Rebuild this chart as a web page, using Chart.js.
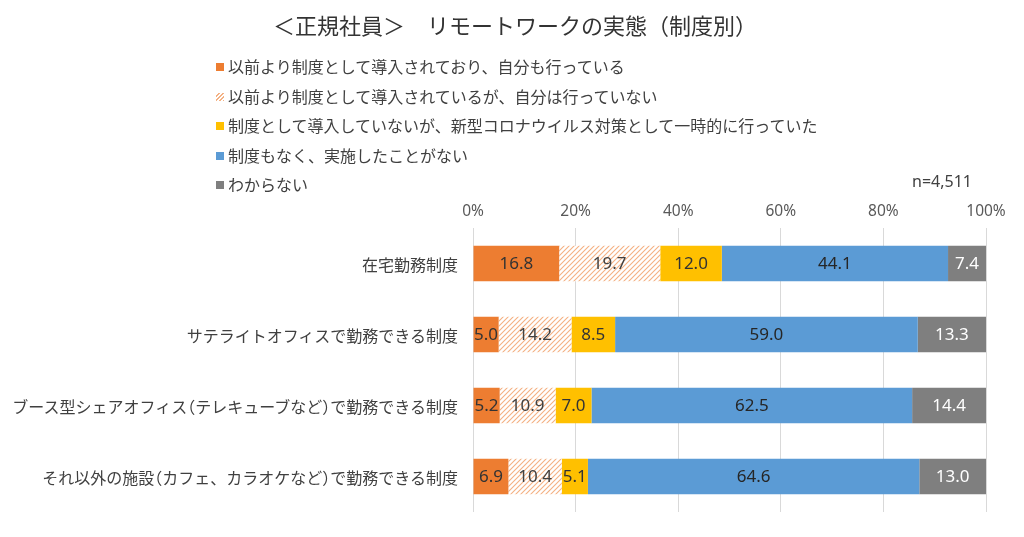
<!DOCTYPE html>
<html><head><meta charset="utf-8">
<script src="https://cdn.jsdelivr.net/npm/chart.js@4"></script>
<style>
html,body{margin:0;padding:0;background:#fff;}
#wrap{position:relative;width:1024px;height:537px;font-family:"Noto Sans CJK JP","Noto Sans",sans-serif;color:#404040;}
#c{position:absolute;left:0;top:0;}
#title{position:absolute;left:0;width:1030px;top:9px;text-align:center;font-size:22px;line-height:30px;color:#333;}
.lg{position:absolute;left:216px;font-size:16px;line-height:20px;color:#404040;white-space:nowrap;}
.sw{display:inline-block;width:8px;height:8px;margin-right:4px;vertical-align:2px;}
#n{position:absolute;left:912px;top:170px;font-size:16px;line-height:22px;color:#404040;font-family:"Noto Sans",sans-serif;}
.cat{position:absolute;right:566px;font-size:16px;line-height:22px;color:#404040;white-space:nowrap;text-align:right;}
.h{font-feature-settings:"halt";}
</style></head>
<body><div id="wrap">
<canvas id="c" width="1024" height="537"></canvas>
<div id="title">＜正規社員＞　リモートワークの実態（制度別）</div>
<div id="legend"></div>
<div id="cats"></div>
<div id="n">n=4,511</div>
</div>
<script>
const categories = ["在宅勤務制度","サテライトオフィスで勤務できる制度","ブース型シェアオフィス（テレキューブなど）で勤務できる制度","それ以外の施設（カフェ、カラオケなど）で勤務できる制度"];
const seriesNames = ["以前より制度として導入されており、自分も行っている","以前より制度として導入されているが、自分は行っていない","制度として導入していないが、新型コロナウイルス対策として一時的に行っていた","制度もなく、実施したことがない","わからない"];
const s1 = [16.8, 5.0, 5.2, 6.9];
const s2 = [19.7, 14.2, 10.9, 10.4];
const s3 = [12.0, 8.5, 7.0, 5.1];
const s4 = [44.1, 59.0, 62.5, 64.6];
const s5 = [7.4, 13.3, 14.4, 13.0];
const xTicks = [0,20,40,60,80,100];
const colors = ["#ED7D31", "hatch", "#FFC000", "#5B9BD5", "#7F7F7F"];
const labelColors = ["#333333","#404040","#333333","#262626","#ffffff"];

function hatch(){
  const p=document.createElement('canvas');p.width=5;p.height=5;
  const g=p.getContext('2d');
  g.fillStyle='#fff';g.fillRect(0,0,5,5);
  g.strokeStyle='#F4B183';g.lineWidth=1.1;
  g.beginPath();
  g.moveTo(0,5);g.lineTo(5,0);
  g.moveTo(-2.5,2.5);g.lineTo(2.5,-2.5);
  g.moveTo(2.5,7.5);g.lineTo(7.5,2.5);
  g.stroke();
  return document.getElementById('c').getContext('2d').createPattern(p,'repeat');
}
const pat = hatch();

// legend
const lgTops=[56,86,115,145,174];
const lg=document.getElementById('legend');
seriesNames.forEach((nm,i)=>{
  const d=document.createElement('div');d.className='lg';d.style.top=lgTops[i]+'px';
  const sw=document.createElement('span');sw.className='sw';
  if(colors[i]==='hatch'){sw.style.background='repeating-linear-gradient(135deg,#fff 0 1.5px,#F4B183 1.5px 3px)';}
  else sw.style.background=colors[i];
  d.appendChild(sw);d.appendChild(document.createTextNode(nm));lg.appendChild(d);
});

const all=[s1,s2,s3,s4,s5];
const datasets=all.map((arr,i)=>({
  label:seriesNames[i],data:arr,
  backgroundColor: colors[i]==='hatch'?pat:colors[i],
  borderWidth:0,categoryPercentage:1,barPercentage:0.5
}));

const labelPlugin={id:'lbl',afterDatasetsDraw(chart){
  const ctx=chart.ctx;ctx.save();
  ctx.font='17px "Noto Sans","Noto Sans CJK JP",sans-serif';
  ctx.textAlign='center';ctx.textBaseline='middle';
  chart.data.datasets.forEach((ds,i)=>{
    chart.getDatasetMeta(i).data.forEach((bar,j)=>{
      const x=(bar.x+bar.base)/2;
      ctx.fillStyle=labelColors[i];
      ctx.fillText(ds.data[j].toFixed(1),x,bar.y+1);
    });
  });
  ctx.restore();
}};

const chart=new Chart(document.getElementById('c'),{
  type:'bar',
  data:{labels:categories,datasets},
  options:{
    indexAxis:'y',responsive:false,animation:false,
    layout:{padding:{top:196,right:38,bottom:25,left:0}},
    plugins:{legend:{display:false},tooltip:{enabled:false},title:{display:false}},
    scales:{
      x:{position:'top',stacked:true,min:0,max:100,
        afterBuildTicks(s){s.ticks=xTicks.map(v=>({value:v}));},
        afterFit(s){s.height=32;},
        grid:{color:'#D9D9D9',drawTicks:false,lineWidth:1},
        border:{display:false},
        ticks:{callback:v=>v+'%',color:'#595959',padding:7,font:{size:15.5,family:'"Noto Sans","Noto Sans CJK JP",sans-serif'},maxRotation:0}
      },
      y:{stacked:true,
        afterFit(s){s.width=473;},
        grid:{display:false,drawTicks:false},
        border:{display:false},
        ticks:{display:false}
      }
    }
  },
  plugins:[labelPlugin]
});

// category labels as HTML text placed at the y scale's tick positions
const cats=document.getElementById('cats');
categories.forEach((c,i)=>{
  const d=document.createElement('div');d.className='cat';
  d.style.top=(chart.scales.y.getPixelForTick(i)-11)+'px';
  d.innerHTML=c.replace(/([（）])/g,'<span class="h">$1</span>');
  cats.appendChild(d);
});
</script>
</body></html>
